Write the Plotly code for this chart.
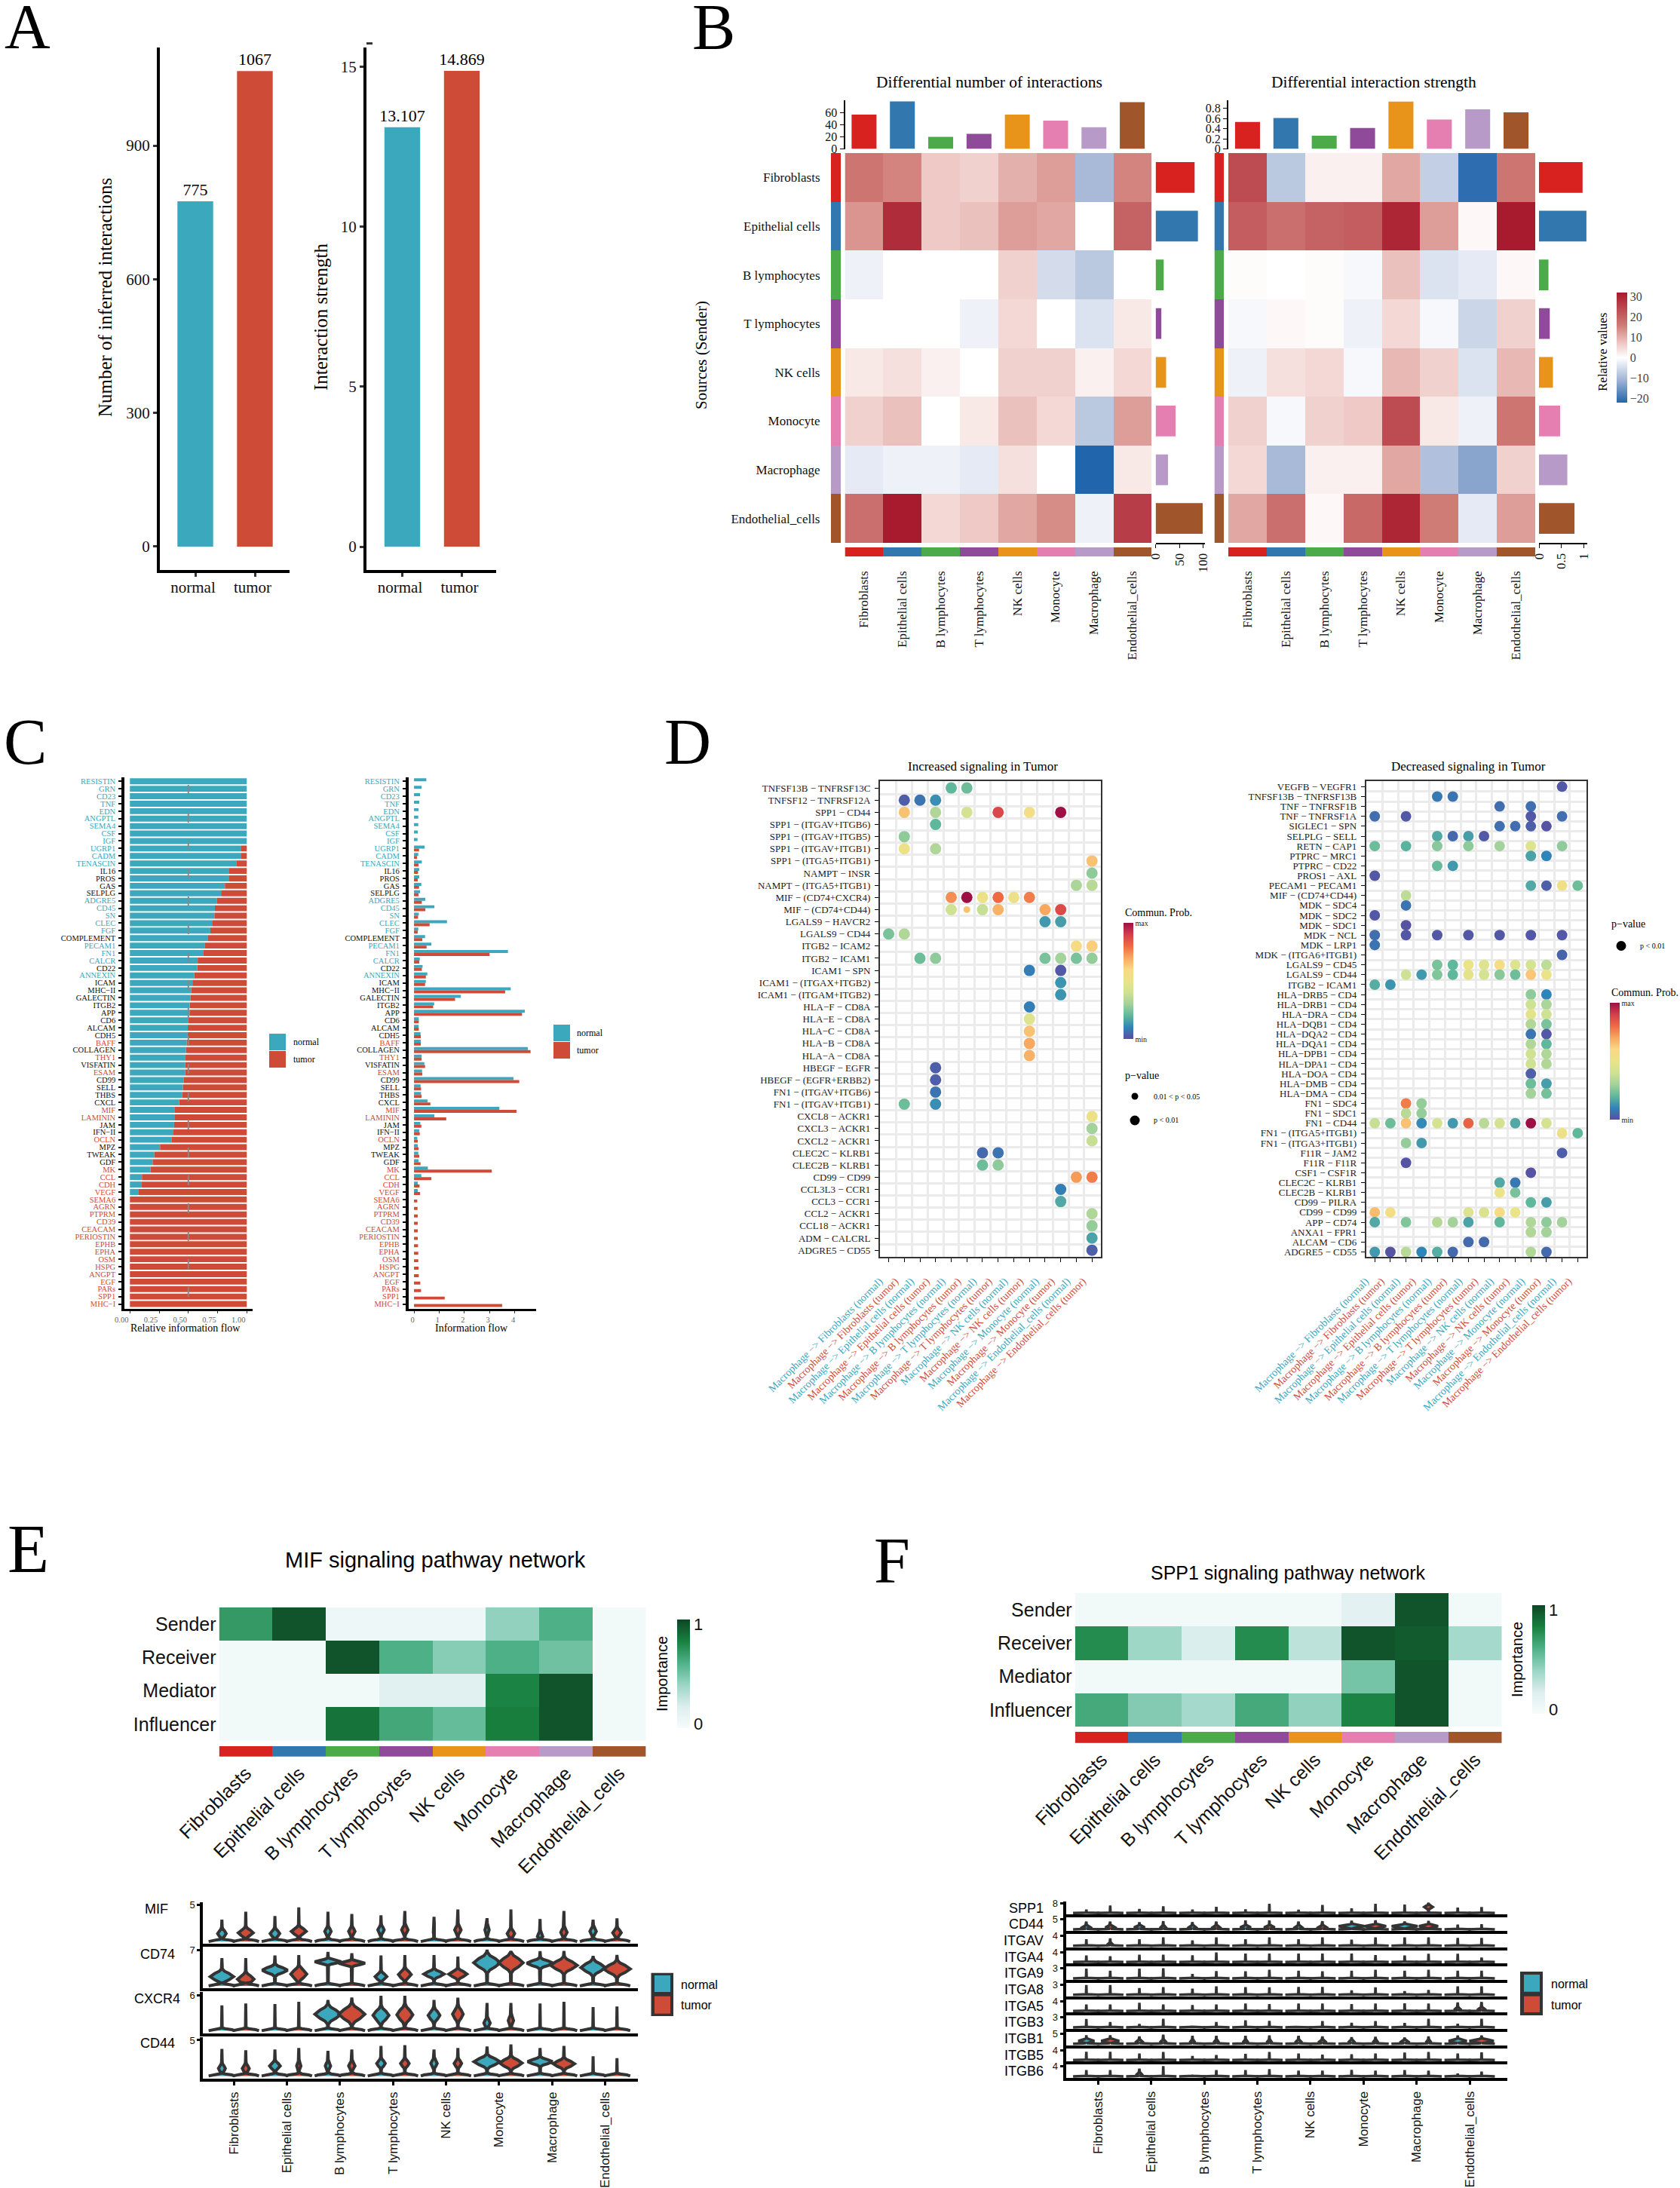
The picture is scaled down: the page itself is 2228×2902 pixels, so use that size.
import plotly.graph_objects as go

W, H = 2228, 2902
SERIF = "Liberation Serif"
SANS = "Liberation Sans"
TEAL = "#3CA8BD"
RED = "#CE4B38"
DARK = "#333333"

# ---------- data ----------
CELLS = ["Fibroblasts", "Epithelial cells", "B lymphocytes", "T lymphocytes", "NK cells", "Monocyte", "Macrophage", "Endothelial_cells"]
CELL_COLORS = ["#D8221F", "#3277AD", "#4CAA4B", "#8F4A9A", "#E8931A", "#E57FB1", "#B79AC7", "#A0552B"]
GROUPS = ["normal", "tumor"]
N_INTERACTIONS = [775, 1067]
STRENGTH = [13.107, 14.869]

DIFF_NUM = [
    [17, 15, 7, 6, 10, 12, -10, 15],
    [13, 29, 7, 8, 12, 11, 0, 20],
    [-2, 0, 0, 0, 6, -5, -8, 0],
    [0, 0, 0, -2, 5, 0, -4, 3],
    [3, 4, 2, 0, 6, 6, 2, 5],
    [6, 8, 0, 3, 8, 5, -8, 12],
    [-3, -2, -2, -3, 4, 0, -22, 3],
    [18, 32, 5, 7, 11, 14, -2, 26],
]
DIFF_STR = [
    [24, -8, 2, 2, 11, -7, -21, 17],
    [21, 18, 20, 21, 30, 12, 1, 32],
    [0.5, 0, 0.5, -1, 8, -4, -3, 1],
    [-1, 1, 0.5, -2, 5, -1, -6, 6],
    [-2, 4, 5, -1, 9, 6, -4, 9],
    [6, -1, 6, 7, 24, 3, -2, 17],
    [5, -10, 2, 2, 11, -9, -13, 6],
    [11, 18, 1, 19, 30, 16, -3, 12],
]
NUM_TOP = [57, 79, 20, 25, 57, 47, 36, 78]
NUM_RIGHT = [82, 89, 17, 12, 22, 42, 26, 99]
STR_TOP = [0.53, 0.61, 0.26, 0.41, 0.93, 0.58, 0.78, 0.72]
STR_RIGHT = [0.97, 1.055, 0.21, 0.24, 0.31, 0.47, 0.63, 0.79]

PATHWAYS = ["RESISTIN", "GRN", "CD23", "TNF", "EDN", "ANGPTL", "SEMA4", "CSF", "IGF", "UGRP1", "CADM", "TENASCIN", "IL16", "PROS", "GAS", "SELPLG", "ADGRE5", "CD45", "SN", "CLEC", "FGF", "COMPLEMENT", "PECAM1", "FN1", "CALCR", "CD22", "ANNEXIN", "ICAM", "MHC−II", "GALECTIN", "ITGB2", "APP", "CD6", "ALCAM", "CDH5", "BAFF", "COLLAGEN", "THY1", "VISFATIN", "ESAM", "CD99", "SELL", "THBS", "CXCL", "MIF", "LAMININ", "JAM", "IFN−II", "OCLN", "MPZ", "TWEAK", "GDF", "MK", "CCL", "CDH", "VEGF", "SEMA6", "AGRN", "PTPRM", "CD39", "CEACAM", "PERIOSTIN", "EPHB", "EPHA", "OSM", "HSPG", "ANGPT", "EGF", "PARs", "SPP1", "MHC−I"]
PATHWAY_GROUP = "nnnnnnnnnnnn" + "bbbb" + "nnnnn" + "b" + "nnn" + "b" + "n" + "bbbbbbbb" + "t" + "b" + "t" + "b" + "t" + "bbbb" + "tt" + "bb" + "t" + "bbb" + "ttttttttttttttttttt"
REL_NORMAL = [1, 1, 1, 1, 1, 1, 1, 1, 1, .953, .953, .91, .845, .845, .813, .78, .746, .727, .723, .703, .688, .669, .639, .63, .58, .576, .55, .535, .525, .518, .512, .51, .497, .495, .494, .486, .48, .475, .473, .473, .462, .454, .447, .421, .385, .385, .378, .372, .355, .258, .209, .194, .176, .103, .097, .075, 0, 0, 0, 0, 0, 0, 0, 0, 0, 0, 0, 0, 0, 0, 0]
FLOW_NORMAL = [.49, .3, .24, .21, .18, .17, .17, .15, .14, .42, .17, .31, .21, .21, .29, .24, .45, .81, .19, 1.31, .17, .44, .69, 3.73, .23, .34, .53, .47, 3.84, 1.86, .8, 4.4, .19, .18, .26, .27, 4.52, .3, .41, .32, 3.95, .26, .28, .54, 3.39, .81, .25, .21, .13, .15, .17, .18, .55, .29, .15, .15, 0, 0, 0, 0, 0, 0, 0, 0, 0, 0, 0, 0, 0, 0, 0]
FLOW_TUMOR = [0, 0, 0, 0, 0, 0, 0, 0, 0, .2, .12, .18, .16, .15, .2, .18, .31, .45, .16, .62, .15, .33, .5, 3.0, .21, .31, .47, .44, 3.62, 1.63, .76, 4.29, .19, .19, .27, .27, 4.63, .3, .44, .33, 4.18, .28, .3, .65, 4.07, 1.28, .29, .23, .15, .18, .21, .26, 3.09, .69, .22, .24, .13, .14, .15, .15, .15, .15, .16, .17, .17, .18, .19, .25, .28, 1.22, 3.5]

TARGETS = ["Fibroblasts", "Epithelial cells", "B lymphocytes", "T lymphocytes", "NK cells", "Monocyte", "Endothelial_cells"]
INC_ROWS = ["TNFSF13B − TNFRSF13C", "TNFSF12 − TNFRSF12A", "SPP1 − CD44", "SPP1 − (ITGAV+ITGB6)", "SPP1 − (ITGAV+ITGB5)", "SPP1 − (ITGAV+ITGB1)", "SPP1 − (ITGA5+ITGB1)", "NAMPT − INSR", "NAMPT − (ITGA5+ITGB1)", "MIF − (CD74+CXCR4)", "MIF − (CD74+CD44)", "LGALS9 − HAVCR2", "LGALS9 − CD44", "ITGB2 − ICAM2", "ITGB2 − ICAM1", "ICAM1 − SPN", "ICAM1 − (ITGAX+ITGB2)", "ICAM1 − (ITGAM+ITGB2)", "HLA−F − CD8A", "HLA−E − CD8A", "HLA−C − CD8A", "HLA−B − CD8A", "HLA−A − CD8A", "HBEGF − EGFR", "HBEGF − (EGFR+ERBB2)", "FN1 − (ITGAV+ITGB6)", "FN1 − (ITGAV+ITGB1)", "CXCL8 − ACKR1", "CXCL3 − ACKR1", "CXCL2 − ACKR1", "CLEC2C − KLRB1", "CLEC2B − KLRB1", "CD99 − CD99", "CCL3L3 − CCR1", "CCL3 − CCR1", "CCL2 − ACKR1", "CCL18 − ACKR1", "ADM − CALCRL", "ADGRE5 − CD55"]
INC_POINTS = [
    (1, 5, .2), (1, 6, .22), (2, 2, .03), (2, 3, .07), (2, 4, .12),
    (3, 2, .65), (3, 4, .33), (3, 6, .42), (3, 8, .88), (3, 10, .55), (3, 12, 1.0),
    (4, 4, .2), (5, 2, .27), (6, 2, .52), (6, 4, .33), (7, 14, .65), (8, 14, .27), (9, 13, .32), (9, 14, .35),
    (10, 5, .74), (10, 6, 1.0), (10, 7, .52), (10, 8, .8), (10, 9, .52), (10, 10, .77),
    (11, 5, .4), (11, 7, .38), (11, 8, .68), (11, 11, .7), (11, 12, .87),
    (12, 11, .14), (12, 12, .15), (13, 1, .24), (13, 2, .33), (14, 13, .58), (14, 14, .62),
    (15, 3, .22), (15, 4, .27), (15, 11, .24), (15, 12, .3), (15, 13, .24), (15, 14, .28),
    (16, 10, .09), (16, 12, .02), (17, 12, .13), (18, 12, .13), (19, 10, .09), (20, 10, .45), (21, 10, .65), (22, 10, .7), (23, 10, .68),
    (24, 4, .03), (25, 4, .03), (26, 4, .07), (27, 2, .22), (27, 4, .12), (28, 14, .52), (29, 14, .3), (30, 14, .38),
    (31, 7, .05), (31, 8, .07), (32, 7, .22), (32, 8, .27), (33, 13, .72), (33, 14, .77), (34, 12, .09), (35, 12, .17),
    (36, 14, .33), (37, 14, .28), (38, 14, .16), (39, 14, .03),
]
INC_WEAK = [(11, 6, .65)]
DEC_ROWS = ["VEGFB − VEGFR1", "TNFSF13B − TNFRSF13B", "TNF − TNFRSF1B", "TNF − TNFRSF1A", "SIGLEC1 − SPN", "SELPLG − SELL", "RETN − CAP1", "PTPRC − MRC1", "PTPRC − CD22", "PROS1 − AXL", "PECAM1 − PECAM1", "MIF − (CD74+CD44)", "MDK − SDC4", "MDK − SDC2", "MDK − SDC1", "MDK − NCL", "MDK − LRP1", "MDK − (ITGA6+ITGB1)", "LGALS9 − CD45", "LGALS9 − CD44", "ITGB2 − ICAM1", "HLA−DRB5 − CD4", "HLA−DRB1 − CD4", "HLA−DRA − CD4", "HLA−DQB1 − CD4", "HLA−DQA2 − CD4", "HLA−DQA1 − CD4", "HLA−DPB1 − CD4", "HLA−DPA1 − CD4", "HLA−DOA − CD4", "HLA−DMB − CD4", "HLA−DMA − CD4", "FN1 − SDC4", "FN1 − SDC1", "FN1 − CD44", "FN1 − (ITGA5+ITGB1)", "FN1 − (ITGA3+ITGB1)", "F11R − JAM2", "F11R − F11R", "CSF1 − CSF1R", "CLEC2C − KLRB1", "CLEC2B − KLRB1", "CD99 − PILRA", "CD99 − CD99", "APP − CD74", "ANXA1 − FPR1", "ALCAM − CD6", "ADGRE5 − CD55"]
DEC_POINTS = [
    (1, 13, .02), (2, 5, .08), (2, 6, .07), (3, 9, .06), (3, 11, .06), (4, 1, .06), (4, 3, .02), (4, 11, .02), (4, 13, .06),
    (5, 9, .06), (5, 10, .06), (5, 11, .03), (5, 12, .01), (6, 5, .17), (6, 6, .05), (6, 7, .15), (6, 8, .02),
    (7, 1, .22), (7, 3, .19), (7, 5, .26), (7, 7, .27), (7, 9, .3), (7, 11, .45), (7, 13, .27), (8, 11, .16), (8, 12, .1),
    (9, 5, .21), (9, 6, .14), (10, 1, .02), (11, 11, .17), (11, 12, .03), (11, 13, .53), (11, 14, .22), (12, 3, .36), (13, 3, .07), (14, 1, .02), (15, 3, .01),
    (16, 1, .06), (16, 3, .02), (16, 5, .02), (16, 7, .02), (16, 9, .02), (16, 11, .02), (16, 13, .02), (17, 1, .07), (18, 13, .04),
    (19, 5, .24), (19, 6, .2), (19, 7, .5), (19, 8, .45), (19, 9, .57), (19, 10, .45), (19, 11, .42), (19, 12, .36),
    (20, 3, .4), (20, 4, .14), (20, 5, .25), (20, 6, .2), (20, 7, .48), (20, 8, .42), (20, 9, .26), (20, 10, .22), (20, 11, .64), (20, 12, .5),
    (21, 1, .18), (21, 2, .13), (22, 11, .27), (22, 12, .1), (23, 11, .4), (23, 12, .32), (24, 11, .47), (24, 12, .4), (25, 11, .33), (25, 12, .24),
    (26, 11, .07), (26, 12, .02), (27, 11, .33), (27, 12, .2), (28, 11, .4), (28, 12, .33), (29, 11, .4), (29, 12, .33), (30, 11, .03),
    (31, 11, .22), (31, 12, .15), (32, 11, .3), (32, 12, .23), (33, 3, .77), (33, 4, .28), (34, 3, .35), (34, 4, .28),
    (35, 1, .38), (35, 2, .22), (35, 3, .65), (35, 4, .11), (35, 5, .43), (35, 6, .14), (35, 7, .82), (35, 8, .35), (35, 9, .42), (35, 10, .17), (35, 11, 1.0), (35, 12, .43),
    (36, 13, .52), (36, 14, .2), (37, 3, .28), (37, 4, .14), (38, 13, .03), (39, 3, .01), (40, 11, .01), (41, 9, .17), (41, 10, .08), (42, 9, .5), (42, 10, .24),
    (43, 11, .2), (43, 12, .15), (44, 1, .66), (44, 2, .56), (44, 7, .45), (44, 8, .44), (44, 9, .58), (44, 10, .5),
    (45, 1, .17), (45, 3, .25), (45, 5, .34), (45, 6, .3), (45, 7, .16), (45, 9, .2), (45, 11, .33), (45, 12, .27), (45, 13, .3),
    (46, 11, .33), (46, 12, .3), (47, 7, .05), (47, 8, .05), (48, 1, .14), (48, 2, .01), (48, 3, .35), (48, 4, .1), (48, 5, .18), (48, 6, .05), (48, 11, .33), (48, 12, .05),
]

ROLES = ["Sender", "Receiver", "Mediator", "Influencer"]
MIF_ROLES = [
    [.72, 1.0, .03, .03, .03, .42, .62, 0],
    [0, 0, 1.0, .62, .45, .62, .52, 0],
    [0, 0, 0, .14, .14, .82, 1.0, 0],
    [0, 0, .88, .66, .55, .84, 1.0, 0],
]
SPP1_ROLES = [
    [0, 0, 0, 0, 0, .12, 1.0, 0],
    [.78, .38, .18, .78, .28, 1.0, .97, .36],
    [0, 0, 0, 0, 0, .5, 1.0, 0],
    [.65, .46, .36, .65, .42, .82, 1.0, 0],
]

# expression violins: each list runs normal, tumor per cell type
E_GENES = ["MIF", "CD74", "CXCR4", "CD44"]
E_MAX = [5, 7, 6, 5]
E_TOP = [
    [3.0, 4.1, 3.5, 4.7, 4.1, 3.8, 3.6, 4.2, 3.4, 4.4, 3.2, 4.4, 3.1, 4.2, 3.0, 3.2],
    [5.4, 5.4, 5.9, 6.0, 6.6, 6.35, 5.9, 6.0, 6.0, 5.7, 7.0, 6.7, 6.75, 6.75, 5.8, 6.0],
    [4.3, 4.6, 4.5, 4.9, 5.2, 5.6, 5.9, 5.9, 5.2, 5.6, 4.7, 4.7, 4.6, 4.9, 4.0, 4.1],
    [3.77, 3.6, 3.7, 3.9, 3.5, 3.7, 4.2, 4.3, 3.7, 3.9, 4.1, 4.4, 3.9, 4.2, 2.75, 2.5],
]
E_PEAK = [
    [1.1, 1.2, 1.1, 1.4, 1.4, 1.4, 1.6, 1.6, 1.6, 1.6, 1.6, 1.1, .7, 1.25, 1.4, 1.2],
    [1.8, 1.3, 3.05, 2.3, 4.7, 4.4, 1.8, 2.2, 2.3, 2.3, 4.5, 4.5, 4.4, 4.0, 3.55, 3.3],
    [0, 0, 0, 0, 2.8, 2.8, 2.6, 2.7, 2.6, 2.8, 1.3, 1.7, 0, 0, 0, 0],
    [1.05, 1.05, 1.4, 1.4, 1.4, 1.4, 1.75, 1.75, 1.75, 1.75, 2.0, 1.8, 2.0, 1.7, 0, 0],
]
E_WIDTH = [
    [.08, .14, .09, .14, .06, .06, .06, .06, .02, .06, .04, .07, .05, .06, .06, .08],
    [.22, .155, .24, .15, .25, .25, .11, .12, .19, .17, .25, .23, .25, .25, .23, .25],
    [0, 0, 0, 0, .245, .245, .15, .15, .11, .10, .06, .05, 0, 0, 0, 0],
    [.065, .065, .1, .04, .05, .06, .08, .08, .06, .07, .245, .21, .235, .2, 0, 0],
]
E_SPREAD = [
    [.9] * 16,
    [1.5, 1.5, 1.2, 1.7, .7, .7, 1.2, 1.5, 1.1, 1.2, 2.0, 2.0, 1.1, 1.7, 1.7, 1.7],
    [0, 0, 0, 0, 1.7, 1.9, 1.7, 1.9, 1.5, 1.7, 1.1, 1.3, 0, 0, 0, 0],
    [.9, .9, .9, .9, .9, .9, .9, .9, .9, .9, 1.05, 1.05, .7, .9, 0, 0],
]
F_GENES = ["SPP1", "CD44", "ITGAV", "ITGA4", "ITGA9", "ITGA8", "ITGA5", "ITGB3", "ITGB1", "ITGB5", "ITGB6"]
F_MAX = [8, 5, 4, 4, 3, 3, 4, 3, 5, 4, 4]
F_TOP = [
    [2.8, 6, 3.2, 5.4, 2.8, 5, 3, 7.4, 2.6, 6.4, 3.8, 7.4, 6.8, 8, 4.4, 4.8],
    [3.9, 3.9, 3.6, 4.1, 3.6, 3.9, 4.5, 4.5, 3.9, 4.1, 4.25, 4.5, 3.9, 4.25, 2.4, 2.6],
    [2.6, 2.9, 2.6, 3.3, 2.1, 3.3, 2.6, 3.3, 2.6, 3.3, 2.4, 3.3, 3.3, 3.3, 3.1, 3.1],
    [2.6, 2.3, 2.9, 2.9, 2.7, 3.8, 3.4, 3.4, 3.4, 3.4, 3.4, 2.8, 2.6, 3.3, 3.3, 1.8],
    [2.9, 2.3, 2.9, 3, 1.35, 2.2, 2.1, 2.55, 2.3, 2.1, 2.3, 2.55, 2.3, 2.55, 2.3, 2.3],
    [2.9, 2.9, 2, 2.25, 1.8, 2.5, 2.25, 2.2, 2.3, 2.3, 1.3, 2.2, 1.1, 1.4, 2.5, 2.5],
    [2.6, 2.6, 3.3, 2.6, 2.4, 2.6, 3, 2.8, 3, 3, 2.8, 3, 3.1, 3, 3.4, 3.6],
    [2.5, 1.6, 1.05, 2.55, .3, 1.6, 2.1, 1.95, 0, 1.9, 1.4, 1.9, 1.35, 2.55, 1.1, 2.55],
    [4.25, 4.25, 3.6, 4.5, 3.9, 3.9, 3.9, 4.1, 3.9, 3.6, 3.25, 3.4, 3, 3.6, 4.1, 4.1],
    [3.3, 3.3, 2.6, 3.2, 1.6, 2, 2.5, 3.2, 2.6, 2.2, 2.3, 2.6, 3, 3.2, 2.6, 3.1],
    [2.5, 2.5, 3.1, 4.1, .6, 2.5, 2.5, 2.9, 2.3, 2.3, 2.6, 2.3, 2.5, 2.3, 1.1, 1.9],
]
# sparse bulges (gene row, violin index): peak, half-width, spread
F_BULGE = {
    (0, 13): (4.8, .08, 2.2),
    (1, 0): (1, .08, 1.3), (1, 1): (1, .09, 1.3), (1, 2): (1, .1, 1.3), (1, 3): (1, .05, 1.3), (1, 4): (1, .07, 1.3), (1, 5): (1, .07, 1.3),
    (1, 6): (1, .1, 1.3), (1, 7): (1, .1, 1.3), (1, 8): (1, .07, 1.3), (1, 9): (1, .08, 1.3),
    (1, 10): (1.6, .245, 1.2), (1, 11): (1.6, .2, 1.2), (1, 12): (1.6, .245, 1.2), (1, 13): (1.6, .18, 1.2),
    (2, 1): (.7, .04, .7), (6, 14): (.8, .05, .9), (6, 15): (.8, .06, .9), (10, 2): (.8, .05, 1.0),
    (8, 0): (1.4, .15, 1.3), (8, 1): (1.4, .17, 1.3), (8, 2): (1, .06, 1.3), (8, 3): (1, .05, 1.3), (8, 4): (1, .04, 1.3), (8, 5): (1, .04, 1.3),
    (8, 6): (1, .04, 1.3), (8, 7): (1, .04, 1.3), (8, 8): (1, .05, 1.3), (8, 9): (1, .06, 1.3), (8, 10): (1, .05, 1.3), (8, 11): (1, .04, 1.3),
    (8, 12): (1, .07, 1.3), (8, 13): (1, .04, 1.3), (8, 14): (1.4, .17, 1.3), (8, 15): (1.4, .23, 1.3),
}

SPECTRAL = [[0, "#5B4DA0"], [.1, "#2F84B9"], [.2, "#5FB89B"], [.3, "#A3D29A"], [.4, "#CFE293"], [.5, "#EAE388"], [.6, "#F9D985"], [.7, "#F8A85F"], [.8, "#EF6A43"], [.9, "#D33F4C"], [1, "#9E0F45"]]
BUGN = [[0, "#F7FBFC"], [.2, "#DCEEEE"], [.4, "#9AD5C4"], [.6, "#4FB188"], [.8, "#18803F"], [1, "#0F4525"]]
DIVERGE_MIN, DIVERGE_MAX = -22, 32
_z0 = -DIVERGE_MIN / (DIVERGE_MAX - DIVERGE_MIN)
DIVERGE = [[0, "#2166AC"], [_z0 * .5, "#A0B3D5"], [_z0, "#FFFFFF"], [_z0 + (1 - _z0) * .25, "#EBC1BD"], [_z0 + (1 - _z0) * .5, "#CF7B76"], [1, "#A81A2D"]]
STRIP = [[i / 7, c] for i, c in enumerate(CELL_COLORS)]

# ---------- helpers ----------
fig = go.Figure()
annots, shapes = [], []
axis_n = [1]


def fx(x):
    return x / W


def fy(y):
    return 1 - y / H


def axes(x0, y0, x1, y1, xr, yr, xkw=None, ykw=None):
    axis_n[0] += 1
    n = axis_n[0]
    base = dict(showgrid=False, zeroline=False, showline=False, ticks="", showticklabels=False)
    xa = dict(base, domain=[fx(x0), fx(x1)], range=xr, anchor=f"y{n}")
    ya = dict(base, domain=[fy(y1), fy(y0)], range=yr, anchor=f"x{n}")
    xa.update(xkw or {})
    ya.update(ykw or {})
    fig.update_layout(**{f"xaxis{n}": xa, f"yaxis{n}": ya})
    return f"x{n}", f"y{n}"


def text(x, y, s, size, family=SERIF, color="black", angle=0, anchor="center"):
    annots.append(dict(x=fx(x), y=fy(y), xref="paper", yref="paper", text=s, showarrow=False, textangle=angle,
                       xanchor=anchor, yanchor="middle", font=dict(family=family, size=size, color=color)))


def rect(x0, y0, x1, y1, color, line=None):
    shapes.append(dict(type="rect", xref="paper", yref="paper", x0=fx(x0), x1=fx(x1), y0=fy(y1), y1=fy(y0),
                       fillcolor=color, line=dict(width=0) if line is None else line, layer="above"))


def dot(x, y, d):
    shapes.append(dict(type="circle", xref="paper", yref="paper", x0=fx(x - d / 2), x1=fx(x + d / 2), y0=fy(y + d / 2), y1=fy(y - d / 2),
                       fillcolor="black", line=dict(width=0), layer="above"))


def colorbar(x0, y0, x1, y1, **kw):
    d = dict(x=fx(x0), xanchor="left", y=fy(y1), yanchor="bottom", lenmode="pixels", len=y1 - y0, thicknessmode="pixels",
             thickness=x1 - x0, xpad=0, ypad=0, outlinewidth=0, ticks="", tickmode="array")
    d.update(kw)
    return d


# ---------- panel letters ----------
for s, x, y, sz in [("A", 36, 36, 84), ("B", 946, 36, 86), ("C", 33, 984, 86), ("D", 912, 984, 86), ("E", 37, 2054, 90), ("F", 1183, 2070, 86)]:
    text(x, y, s, sz)

# ---------- panel A ----------
AX_A = dict(showline=True, linecolor="black", linewidth=4, ticks="outside", ticklen=5, tickwidth=3, tickcolor=DARK, showticklabels=True,
            tickfont=dict(family=SERIF, size=21, color="#111"))
for (x0, x1, cx0, vals, yr, tv, fmt, title, tx) in [
    (212, 384, 259, N_INTERACTIONS, [-52.5, 1120], [0, 300, 600, 900], lambda v: f"{v}", "Number of inferred interactions", 139),
    (486, 658, 533.5, STRENGTH, [-0.73, 15.6], [0, 5, 10, 15], lambda v: f"{v:.3f}", "Interaction strength", 425),
]:
    step = 79
    xa, ya = axes(x0, 63, x1, 756, [(x0 - cx0) / step, (x1 - cx0) / step], yr,
                  dict(AX_A, tickmode="array", tickvals=[0, 1], ticktext=GROUPS, tickfont=dict(family=SERIF, size=21, color="#111"), ticklabelstandoff=-4, ticklabelshift=-3),
                  dict(AX_A, tickmode="array", tickvals=tv))
    fig.add_trace(go.Bar(x=[0, 1], y=vals, width=.6, marker=dict(color=[TEAL, RED]), text=[fmt(v) for v in vals], textposition="outside", constraintext="none",
                         textfont=dict(family=SERIF, size=22, color="black"), cliponaxis=False, xaxis=xa, yaxis=ya, showlegend=False))
    text(tx, 395 if tx < 200 else 420, title, 25, angle=-90)
shapes.append(dict(type="line", xref="paper", yref="paper", x0=fx(486), x1=fx(494), y0=fy(57.6), y1=fy(57.6), line=dict(color=DARK, width=3)))

# ---------- panel B ----------
IDX = list(range(8))
for k, (hx0, hx1, rx0, rx1, z, top, right, ttl, ttop, bx0, rrange, rticks, rtext, trange, ttv, tct) in enumerate([
    (1120.5, 1527, 1102, 1115, DIFF_NUM, NUM_TOP, NUM_RIGHT, "Differential number of interactions", 1312, 1532.6, [0, 104], [0, 50, 100], ["0", "50", "100"], [0, 81], [0, 20, 40, 60], ["0", "20", "40", "60"]),
    (1629, 2036, 1610.5, 1623, DIFF_STR, STR_TOP, STR_RIGHT, "Differential interaction strength", 1822, 2041, [0, 1.08], [0, .5, 1], ["0", "0.5", "1"], [0, .957], [0, .2, .4, .6, .8], ["0", "0.2", "0.4", "0.6", "0.8"]),
]):
    ykw = dict(showticklabels=True, tickmode="array", tickvals=IDX, ticktext=CELLS, ticklabelstandoff=32, tickfont=dict(family=SERIF, size=17, color="#111")) if k == 0 else {}
    xa, ya = axes(hx0, 203, hx1, 720, [-.5, 7.5], [7.5, -.5],
                  dict(showticklabels=True, tickmode="array", tickvals=IDX, ticktext=CELLS, tickangle=-90, ticklabelstandoff=33, tickfont=dict(family=SERIF, size=17, color="#111")), ykw)
    tr = dict(z=z, x=IDX, y=IDX, colorscale=DIVERGE, zmin=DIVERGE_MIN, zmax=DIVERGE_MAX, xaxis=xa, yaxis=ya, showscale=(k == 1))
    if k == 1:
        tr["colorbar"] = colorbar(2143.7, 388, 2157.8, 534, tickvals=[30, 20, 10, 0, -10, -20], ticktext=["30", "20", "10", "0", "−10", "−20"], tickfont=dict(family=SERIF, size=16))
    fig.add_trace(go.Heatmap(**tr))
    # top bars
    xa, ya = axes(hx0, 133, hx1, 197.5, [-.5, 7.5], trange, {},
                  dict(showline=True, linecolor="black", linewidth=2, ticks="outside", ticklen=5, tickcolor="black", showticklabels=True, tickmode="array", tickvals=ttv, ticktext=tct, tickfont=dict(family=SERIF, size=16, color="#111")))
    fig.add_trace(go.Bar(x=IDX, y=top, width=.65, marker=dict(color=CELL_COLORS), xaxis=xa, yaxis=ya, showlegend=False))
    # right bars
    bw = 63 / 100 * rrange[1] if k == 0 else 59.6 * rrange[1]
    xa, ya = axes(bx0, 203, bx0 + bw, 720, rrange, [7.5, -.5],
                  dict(showline=True, linecolor="black", linewidth=2, ticks="outside", ticklen=5, tickcolor="black", showticklabels=True, tickmode="array", tickvals=rticks, ticktext=rtext, tickangle=-90, tickfont=dict(family=SERIF, size=17, color="#111")))
    fig.add_trace(go.Bar(x=right, y=IDX, orientation="h", width=.63, marker=dict(color=CELL_COLORS), xaxis=xa, yaxis=ya, showlegend=False))
    # annotation strips
    xa, ya = axes(rx0, 203, rx1, 720, [-.5, .5], [7.5, -.5])
    fig.add_trace(go.Heatmap(z=[[i] for i in IDX], x=[0], y=IDX, colorscale=STRIP, zmin=0, zmax=7, showscale=False, xaxis=xa, yaxis=ya))
    xa, ya = axes(hx0, 726, hx1, 738, [-.5, 7.5], [-.5, .5])
    fig.add_trace(go.Heatmap(z=[IDX], x=IDX, y=[0], colorscale=STRIP, zmin=0, zmax=7, showscale=False, xaxis=xa, yaxis=ya))
    text(ttop, 108.6, ttl, 21.5)
text(930, 471, "Sources (Sender)", 21, angle=-90)
text(2125, 467, "Relative values", 17, angle=-90)

# ---------- panel C ----------
def colored(names, groups):
    cmap = {"n": "#3BA7BC", "t": "#CF4C3A", "b": "#111111"}
    return [f'<span style="color:{cmap[g]}">{n}</span>' for n, g in zip(names, groups)]


PIDX = list(range(len(PATHWAYS)))
TICKS_C = colored(PATHWAYS, PATHWAY_GROUP)
YR_C = [70.65, -0.57]
ykw_c = dict(showline=True, linecolor="black", linewidth=3.5, ticks="outside", ticklen=4, tickwidth=1.5, tickcolor="black", showticklabels=True,
             tickmode="array", tickvals=PIDX, ticktext=TICKS_C, tickfont=dict(family=SERIF, size=10.5), ticklabelstandoff=2)
xkw_c = dict(showline=True, linecolor="black", linewidth=2.5, ticks="outside", ticklen=3, tickcolor=DARK, showticklabels=True, tickfont=dict(family=SERIF, size=10.5, color="#666"))
xa, ya = axes(165, 1030.6, 335, 1736, [-.047, 1.05], YR_C, dict(xkw_c, tickmode="array", tickvals=[0, .25, .5, .75, 1], ticktext=["0.00", "0.25", "0.50", "0.75", "1.00"], ticklabelshift=-11), ykw_c)
fig.add_trace(go.Bar(x=REL_NORMAL, y=PIDX, orientation="h", width=.8, marker=dict(color=TEAL), xaxis=xa, yaxis=ya, showlegend=False))
fig.add_trace(go.Bar(x=[1 - v for v in REL_NORMAL], base=REL_NORMAL, y=PIDX, orientation="h", width=.8, marker=dict(color=RED), xaxis=xa, yaxis=ya, showlegend=False))
shapes.append(dict(type="line", xref=xa, yref=ya, x0=.5, x1=.5, y0=.47, y1=70.5, line=dict(color="#888888", width=2, dash="13px,24px"), layer="above"))
text(246, 1761, "Relative information flow", 14)
xa, ya = axes(541.7, 1030.6, 711, 1736, [-.22, 4.85], YR_C, dict(xkw_c, tickmode="array", tickvals=[0, 1, 2, 3, 4], ticktext=["0", "1", "2", "3", "4"], ticklabelshift=-2), ykw_c)
fig.add_trace(go.Bar(x=FLOW_NORMAL, y=PIDX, orientation="h", width=.4, offset=-.4, marker=dict(color=TEAL), xaxis=xa, yaxis=ya, showlegend=False))
fig.add_trace(go.Bar(x=FLOW_TUMOR, y=PIDX, orientation="h", width=.4, offset=0, marker=dict(color=RED), xaxis=xa, yaxis=ya, showlegend=False))
text(625, 1761, "Information flow", 14)
for (bx, by, tx) in [(357, 1371, 387), (734, 1359, 763)]:
    rect(bx, by, bx + 22, by + 22, TEAL)
    rect(bx, by + 23, bx + 22, by + 45, RED)
    text(tx, by + 11, "normal", 12, anchor="left")
    text(tx, by + 34, "tumor", 12, anchor="left")

# ---------- panel D ----------
COL_LABELS = []
COL_GROUPS = []
for t in TARGETS:
    for g, code in zip(GROUPS, "nt"):
        COL_LABELS.append(f"Macrophage −> {t} ({g})")
        COL_GROUPS.append(code)
COL_TICKS = colored(COL_LABELS, COL_GROUPS)
for (x0, x1, xr, yr, rows, pts, weak, ttl, tcx, cb) in [
    (1166.7, 1459.8, [-.57, 13.56], [38.55, -.565], INC_ROWS, INC_POINTS, INC_WEAK, "Increased signaling in Tumor", 1303.7, (1490, 1224, 1502.7, 1378)),
    (1811.5, 2104.3, [-.565, 13.58], [47.5, -.56], DEC_ROWS, DEC_POINTS, [], "Decreased signaling in Tumor", 1947.6, (2134.5, 1330, 2147.3, 1485)),
]:
    nr = len(rows)
    xa, ya = axes(x0, 1036, x1, 1667, xr, yr,
                  dict(showline=True, mirror=True, linecolor=DARK, linewidth=1.5, ticks="outside", ticklen=5, tickcolor="black", showticklabels=True,
                       tickmode="array", tickvals=list(range(14)), ticktext=COL_TICKS, tickangle=-45, ticklabelstandoff=12, ticklabelshift=-12, tickfont=dict(family=SERIF, size=14),
                       minor=dict(tickmode="array", tickvals=[i + .5 for i in range(13)], showgrid=True, gridcolor="#EBEBEB", gridwidth=2.5, ticks="")),
                  dict(showline=True, mirror=True, linecolor=DARK, linewidth=1.5, ticks="outside", ticklen=5, tickcolor="black", showticklabels=True,
                       tickmode="array", tickvals=list(range(nr)), ticktext=rows, ticklabelstandoff=3, tickfont=dict(family=SERIF, size=13, color="#222"),
                       minor=dict(tickmode="array", tickvals=[i + .5 for i in range(nr - 1)], showgrid=True, gridcolor="#EBEBEB", gridwidth=2.5, ticks="")))
    all_pts = list(pts) + list(weak)
    sizes = [15 if nr < 45 else 14] * len(pts) + [9] * len(weak)
    fig.add_trace(go.Scatter(x=[p[1] - 1 for p in all_pts], y=[p[0] - 1 for p in all_pts], mode="markers", xaxis=xa, yaxis=ya, showlegend=False,
                             marker=dict(size=sizes, opacity=1, color=[p[2] for p in all_pts], colorscale=SPECTRAL, cmin=0, cmax=1, line=dict(width=0),
                                         colorbar=colorbar(cb[0], cb[1], cb[2], cb[3], tickvals=[0, 1], ticktext=["min", "max"], tickfont=dict(family=SERIF, size=10, color="#222")))))
    text(tcx, 1016, ttl, 17)
text(1490, 1210, "Commun. Prob.", 14, anchor="left")
text(1490, 1426, "p−value", 14, anchor="left")
dot(1505, 1454, 9)
text(1528, 1454, "0.01 &lt; p &lt; 0.05", 10, anchor="left")
dot(1505, 1486, 13)
text(1528, 1486, "p &lt; 0.01", 10, anchor="left")
text(2134.5, 1225, "p−value", 14, anchor="left")
dot(2150, 1254.5, 13)
text(2173, 1254.5, "p &lt; 0.01", 10, anchor="left")
text(2134.5, 1316.6, "Commun. Prob.", 14, anchor="left")

# ---------- panels E / F heatmaps ----------
for (x0, x1, y0, y1, sy0, sy1, z, ttl, tcx, tcy, tsize, cb, cbt) in [
    (290.6, 856.6, 2131.7, 2309, 2316, 2329.7, MIF_ROLES, "MIF signaling pathway network", 578, 2069, 29, (898, 2148, 915, 2292), (878, 2220)),
    (1425.7, 1991.7, 2113, 2290, 2297, 2311.7, SPP1_ROLES, "SPP1 signaling pathway network", 1708, 2086, 25, (2032.4, 2129, 2049.7, 2273), (2012, 2201)),
]:
    xa, ya = axes(x0, y0, x1, y1, [-.5, 7.5], [3.5, -.5], {},
                  dict(showticklabels=True, tickmode="array", tickvals=[0, 1, 2, 3], ticktext=ROLES, ticklabelstandoff=3, tickfont=dict(family=SANS, size=25, color="#111")))
    fig.add_trace(go.Heatmap(z=z, x=IDX, y=[0, 1, 2, 3], colorscale=BUGN, zmin=-.04, zmax=1.05, xaxis=xa, yaxis=ya,
                             colorbar=colorbar(cb[0], cb[1], cb[2], cb[3], tickvals=[0, 1], ticktext=["0", "1"], tickfont=dict(family=SANS, size=22, color="#111"))))
    xa, ya = axes(x0, sy0, x1, sy1, [-.5, 7.5], [-.5, .5],
                  dict(showticklabels=True, tickmode="array", tickvals=IDX, ticktext=CELLS, tickangle=-45, ticklabelstandoff=2, tickfont=dict(family=SANS, size=25, color="#111")))
    fig.add_trace(go.Heatmap(z=[IDX], x=IDX, y=[0], colorscale=STRIP, zmin=0, zmax=7, showscale=False, xaxis=xa, yaxis=ya))
    text(tcx, tcy, ttl, tsize, family=SANS)
    text(cbt[0], cbt[1], "Importance", 20, family=SANS, angle=-90)

# ---------- violins ----------
LENS = [(-1, .04), (-.7, .22), (-.4, .62), (0, 1), (.4, .62), (.7, .22), (1, .04)]
NECK = .006


def violin(cx, top, peak, w, spread, base_w, base_h):
    pts = [(0, base_w), (base_h * .35, base_w * .75), (base_h * .7, base_w * .25), (base_h, NECK)]
    if w > 0:
        for t, f in LENS:
            y = peak + t * spread
            if base_h < y < top:
                pts.append((y, max(NECK, f * w)))
    if top > base_h:
        pts.append((top, 0))
    xs = [cx + p[1] for p in pts] + [cx - p[1] for p in reversed(pts)] + [None]
    ys = [p[0] for p in pts] + [p[0] for p in reversed(pts)] + [None]
    return xs, ys


def violin_row(xa, ya, tops, peaks, widths, spreads, base_h, lw):
    for g, color in enumerate([TEAL, RED]):
        X, Y = [], []
        for i in range(g, 16, 2):
            cx = i // 2 + (-.225 if g == 0 else .225)
            xs, ys = violin(cx, tops[i], peaks[i], widths[i], spreads[i], .25, base_h)
            X += xs
            Y += ys
        fig.add_trace(go.Scatter(x=X, y=Y, mode="lines", fill="toself", fillcolor=color, line=dict(color=DARK, width=lw), xaxis=xa, yaxis=ya, showlegend=False, hoverinfo="skip"))


def vaxis(last, ymax):
    xkw = dict(showline=True, linecolor="black", linewidth=4)
    if last:
        xkw.update(ticks="outside", ticklen=5, tickwidth=3, tickcolor="black", showticklabels=True, tickmode="array", tickvals=IDX, ticktext=CELLS, tickangle=-90,
                   ticklabelstandoff=2, tickfont=dict(family=SANS, size=17, color="#111"))
    ykw = dict(showline=True, linecolor="black", linewidth=4, ticks="outside", ticklen=4, tickwidth=3, tickcolor="black", showticklabels=True, tickmode="array", tickvals=[ymax],
               ticktext=[str(ymax)], tickfont=dict(family=SANS, size=13, color="#111"))
    return xkw, ykw


E_ROW_TOP = [2523, 2582, 2641.7, 2701.7]
E_YR = [[-.3, 5.4], [-.44, 7.6], [-.43, 6.6], [-.35, 5.45]]
E_LABEL = [(225, 2532), (234, 2592), (241, 2651), (234, 2710)]
for r, gene in enumerate(E_GENES):
    xkw, ykw = vaxis(r == 3, E_MAX[r])
    xa, ya = axes(269.3, E_ROW_TOP[r], 846, E_ROW_TOP[r] + 55, [-.58, 7.62], E_YR[r], xkw, ykw)
    violin_row(xa, ya, E_TOP[r], E_PEAK[r], E_WIDTH[r], E_SPREAD[r], .08 * E_MAX[r], 4)
    text(E_LABEL[r][0], E_LABEL[r][1], gene, 18, family=SANS, anchor="right")

for r, gene in enumerate(F_GENES):
    ymax = F_MAX[r]
    u = 40 / ymax
    t = 2490 + (95 + 65 * r) / 3
    peaks = [F_BULGE.get((r, i), (0, 0, 0))[0] for i in range(16)]
    widths = [F_BULGE.get((r, i), (0, 0, 0))[1] for i in range(16)]
    spreads = [F_BULGE.get((r, i), (0, 0, 0))[2] for i in range(16)]
    xkw, ykw = vaxis(r == 10, ymax)
    xa, ya = axes(1413.6, t, 1999, t + 17.7, [-.61, 7.71], [-6 / u, 47 / u], xkw, ykw)
    violin_row(xa, ya, F_TOP[r], peaks, widths, spreads, .05 * ymax, 3.5)
    text(1386, t + 9, gene, 18, family=SANS, anchor="right")

for (bx0, by0, bx1, by1, c0, c1, tx) in [(863.5, 2616.7, 893, 2674, (868, 2620, 889, 2642), (868, 2647.7, 889, 2670.7), 901),
                                         (2016, 2615, 2046, 2673, (2021, 2619, 2042, 2641.7), (2021, 2647.7, 2042, 2669), 2055)]:
    rect(bx0, by0, bx1, by1, DARK)
    rect(*c0, TEAL)
    rect(*c1, RED)
    text(tx, c0[1] + 12, "normal", 16, family=SANS, anchor="left")
    text(tx, c1[1] + 12, "tumor", 16, family=SANS, anchor="left")

fig.update_layout(width=W, height=H, margin=dict(l=0, r=0, t=0, b=0), paper_bgcolor="white", plot_bgcolor="white", barmode="overlay", template="none",
                  showlegend=False, annotations=annots, shapes=shapes)
fig.write_html("out.html", config={"displayModeBar": False}, post_script="document.body.style.margin='0';document.documentElement.style.overflow='hidden';")
